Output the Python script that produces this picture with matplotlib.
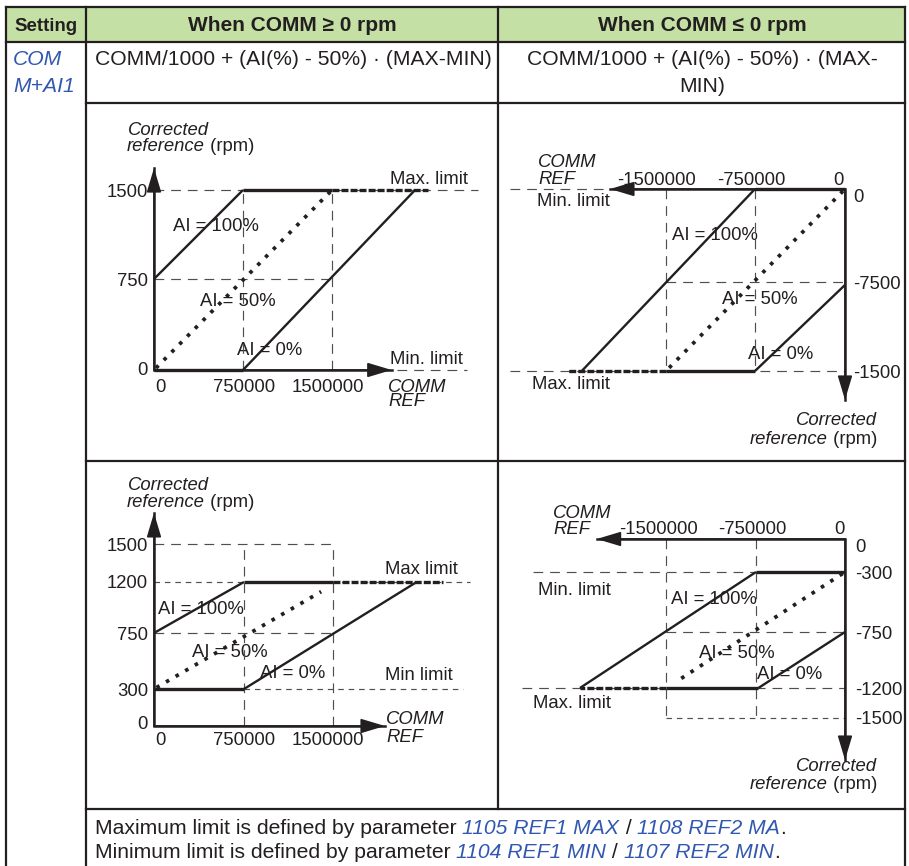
import numpy as np
import matplotlib
matplotlib.use("Agg")
import matplotlib.pyplot as plt
from matplotlib.patches import Rectangle
from matplotlib.transforms import ScaledTranslation

# ---------------------------------------------------------------- data
# A: COMM >= 0, limits 0 ... 1500 rpm
a_ai100_x = [0, 750000];              a_ai100_y = [750, 1500]
a_ai50_x = [0, 1500000];              a_ai50_y = [0, 1500]
a_ai0_x = [750000, 2200000];          a_ai0_y = [0, 1500]
a_max = 1500;  a_max_x = [750000, 1500000, 2310000]
a_min = 0;     a_min_x = [0, 750000]
a_xticks = [0, 750000, 1500000];      a_xlabels = ["0", "750000", "1500000"]
a_yticks = [0, 750, 1500];            a_ylabels = ["0", "750", "1500"]
a_guides = [([0, 2731000], [1500, 1500]), ([0, 1500000], [750, 750]),
            ([2048000, 2638000], [0, 0]),
            ([750000, 750000], [0, 1500]), ([1500000, 1500000], [0, 1500])]

# B: COMM <= 0, limits 0 ... -1500 rpm
b_ai100_x = [-750000, -2210000];      b_ai100_y = [0, -1500]
b_ai50_x = [0, -1500000];             b_ai50_y = [0, -1500]
b_ai0_x = [-750000, 0];               b_ai0_y = [-1500, -775]
b_max = -1500; b_max_x = [-750000, -1500000, -2326000]
b_min = 0;     b_min_x = [0, -750000]
b_xticks = [-1500000, -750000, 0];    b_xlabels = ["-1500000", "-750000", "0"]
b_yticks = [0, -750, -1500];          b_ylabels = ["0", "-7500", "-1500"]
b_guides = [([-2815000, -1972000], [0, 0]), ([-2815000, 0], [-1500, -1500]),
            ([-1500000, 0], [-750, -750]),
            ([-1500000, -1500000], [0, -1500]), ([-750000, -750000], [0, -1500])]

# C: COMM >= 0, limits 300 ... 1200 rpm
c_ai100_x = [0, 750000];              c_ai100_y = [750, 1200]
c_ai50_x = [0, 1400000];              c_ai50_y = [300, 1115]
c_ai0_x = [750000, 2205000];          c_ai0_y = [300, 1200]
c_max = 1200;  c_max_x = [750000, 1500000, 2424000]
c_min = 300;   c_min_x = [0, 750000]
c_xticks = [0, 750000, 1500000];      c_xlabels = ["0", "750000", "1500000"]
c_yticks = [0, 300, 750, 1200, 1500]; c_ylabels = ["0", "300", "750", "1200", "1500"]
c_guides = [([0, 1500000], [1500, 1500]), ([0, 1500000], [750, 750]),
            ([750000, 750000], [0, 1500]), ([1500000, 1500000], [0, 1500])]
c_fine_guides = [([0, 2654000], [1200, 1200]), ([750000, 2597000], [300, 300])]

# D: COMM <= 0, limits -300 ... -1200 rpm
d_ai100_x = [-750000, -2217000];      d_ai100_y = [-300, -1200]
d_ai50_x = [0, -1400000];             d_ai50_y = [-300, -1140]
d_ai0_x = [-730000, 0];               d_ai0_y = [-1200, -750]
d_max = -1200; d_max_x = [-730000, -1500000, -2217000]
d_min = -300;  d_min_x = [0, -750000]
d_xticks = [-1500000, -750000, 0];    d_xlabels = ["-1500000", "-750000", "0"]
d_yticks = [0, -300, -750, -1200, -1500]
d_ylabels = ["0", "-300", "-750", "-1200", "-1500"]
d_guides = [([-2606000, 0], [-300, -300]), ([-2702000, 0], [-1200, -1200]),
            ([-1500000, 0], [-750, -750]),
            ([-1500000, -1500000], [0, -1500]), ([-750000, -750000], [0, -1500])]
d_fine_guides = [([-1500000, 0], [-1500, -1500])]

# ---------------------------------------------------------------- style
W, H, DPI = 909, 866, 100
INK = "#231f20"
GUIDE = "#4f4f4f"
BLUE = "#3158b0"
HEAD = "#c4e0a5"
FS_BODY = 15.2
FS_HEAD = 15.0
FS_SETTING = 13.4
FS_PLOT = 13.3

plt.rcParams["font.family"] = ["Liberation Sans", "DejaVu Sans"]
plt.rcParams["lines.scale_dashes"] = False

fig = plt.figure(figsize=(W / DPI, H / DPI), dpi=DPI)
fig.patch.set_facecolor("white")
page = fig.add_axes([0, 0, 1, 1])
page.set_xlim(0, W)
page.set_ylim(H, 0)
page.axis("off")
renderer = fig.canvas.get_renderer()


def shift(dx, dy):
    return ScaledTranslation(dx / DPI, -dy / DPI, fig.dpi_scale_trans)


def extent(s, size, style="normal", weight="normal", linespacing=1.2):
    t = fig.text(0, 0, s, fontsize=size, fontstyle=style, fontweight=weight,
                 linespacing=linespacing)
    bb = t.get_window_extent(renderer)
    t.remove()
    return bb


def text_width(s, size, style, weight):
    return (extent("x" + s + "x", size, style, weight).width
            - extent("xx", size, style, weight).width)


def write(ax, x, y, runs, size, ha="left", dx=0, dy=0):
    """Draw a line of text made of styled runs; (x, y) is the middle of the capitals."""
    runs = [(r, "normal", INK, "normal") if isinstance(r, str) else r for r in runs]
    widths = [text_width(s, size, st, wt) for s, st, c, wt in runs]
    total = sum(widths)
    pos = dx + {"left": 0.0, "center": -total / 2, "right": -total}[ha]
    base = dy + 0.358 * size / 72 * DPI
    for (s, st, c, wt), w in zip(runs, widths):
        ax.text(x, y, s, fontsize=size, fontstyle=st, fontweight=wt, color=c,
                ha="left", va="baseline", clip_on=False,
                transform=ax.transData + shift(pos, base))
        pos += w


def write_stack(ax, x, y, lines, size, step, style="italic"):
    """Left-aligned block of lines whose capitals are `step` pixels apart;
    (x, y) is the middle of the capitals of the first line."""
    s = "\n".join(lines)
    h = extent(lines[0], size, style).height
    t1 = extent(s, size, style, linespacing=1.0).height
    t2 = extent(s, size, style, linespacing=2.0).height
    a = (t2 - t1) / (len(lines) - 1)
    d = (t1 - h - a * (len(lines) - 1)) / (len(lines) - 1)
    ls = (step - d) / a
    top = 0.358 * size / 72 * DPI - (h - d)
    ax.text(x, y, s, fontsize=size, fontstyle=style, color=INK, ha="left",
            va="top", linespacing=ls, clip_on=False,
            transform=ax.transData + shift(0, top))


def it(s, color=INK):
    return (s, "italic", color, "normal")


def pixel_scale(values, pixels):
    v = np.asarray(values, float)
    p = np.asarray(pixels, float)
    o = np.argsort(v)
    v, p = v[o], p[o]

    def fwd(x):
        x = np.asarray(x, float)
        y = np.interp(x, v, p)
        y = np.where(x < v[0], p[0] + (x - v[0]) * (p[1] - p[0]) / (v[1] - v[0]), y)
        y = np.where(x > v[-1], p[-1] + (x - v[-1]) * (p[-1] - p[-2]) / (v[-1] - v[-2]), y)
        return y

    def inv(y):
        y = np.asarray(y, float)
        x = np.interp(y, p, v)
        x = np.where(y < p[0], v[0] + (y - p[0]) * (v[1] - v[0]) / (p[1] - p[0]), x)
        x = np.where(y > p[-1], v[-1] + (y - p[-1]) * (v[-1] - v[-2]) / (p[-1] - p[-2]), x)
        return x

    return fwd, inv


def panel(cell, xmap, ymap):
    x0, y0, x1, y1 = cell
    ax = fig.add_axes([x0 / W, 1 - y1 / H, (x1 - x0) / W, (y1 - y0) / H])
    fx, ix = pixel_scale(*xmap)
    fy, iy = pixel_scale(ymap[0], [-p for p in ymap[1]])
    ax.set_xscale("function", functions=(fx, ix))
    ax.set_yscale("function", functions=(fy, iy))
    ax.set_xlim(float(ix(x0)), float(ix(x1)))
    ax.set_ylim(float(iy(-y1)), float(iy(-y0)))
    ax.axis("off")
    return ax


def draw_panel(ax, ai100, ai50, ai0, max_x, max_y, min_x, min_y, guides,
               fine_guides, tips):
    for xs, ys in guides:
        ax.plot(xs, ys, color=GUIDE, lw=0.85, dashes=(7, 5), clip_on=False)
    for xs, ys in fine_guides:
        ax.plot(xs, ys, color=GUIDE, lw=0.85, dashes=(4, 3.5), clip_on=False)
    # axes with arrow heads
    xt, yt = tips
    ax.plot([xt, 0, 0], [0, 0, yt], color=INK, lw=1.8, solid_joinstyle="miter",
            clip_on=False)
    for tip in [(xt, 0), (0, yt)]:
        ax.annotate("", xy=tip, xytext=(0, 0), annotation_clip=False,
                    arrowprops=dict(arrowstyle="-|>,head_length=1.5,head_width=0.45",
                                    color=INK, lw=1.2, shrinkA=0, shrinkB=0,
                                    mutation_scale=10))
    # limits
    ax.plot(min_x, [min_y] * len(min_x), color=INK, lw=2.4, solid_capstyle="butt",
            clip_on=False)
    ax.plot(max_x[:2], [max_y] * 2, color=INK, lw=2.4, solid_capstyle="butt",
            clip_on=False)
    ax.plot(max_x[1:], [max_y] * 2, color=INK, lw=2.4, dashes=(5, 1.5), clip_on=False)
    # AI curves
    ax.plot(*ai100, color=INK, lw=1.7, solid_capstyle="butt", clip_on=False)
    ax.plot(*ai0, color=INK, lw=1.7, solid_capstyle="butt", clip_on=False)
    ax.plot(*ai50, color=INK, lw=2.7, linestyle=(6, (2.6, 5.4)),
            dash_capstyle="butt", clip_on=False)


def tick_labels(ax, xticks, xlabels, xdx, xdy, yticks, ylabels, yha, ydx, ydy,
                x_at=0, y_at=0):
    for v, s, dx in zip(xticks, xlabels, xdx):
        write(ax, v, y_at, [s], FS_PLOT, ha="center", dx=dx, dy=xdy)
    for v, s, dy in zip(yticks, ylabels, ydy):
        write(ax, x_at, v, [s], FS_PLOT, ha=yha, dx=ydx, dy=dy)


# ---------------------------------------------------------------- table frame
page.add_patch(Rectangle((6, 7), 899, 35, facecolor=HEAD, edgecolor="none"))
frame = [([6, 905], [7, 7]), ([6, 905], [42, 42]), ([86, 905], [103, 103]),
         ([86, 905], [461, 461]), ([86, 905], [809, 809]),
         ([6, 6], [7, 866]), ([86, 86], [7, 866]), ([498, 498], [7, 809]),
         ([905, 905], [7, 866])]
for xs, ys in frame:
    page.plot(xs, ys, color=INK, lw=1.6, solid_capstyle="projecting")

bold = lambda s: (s, "normal", INK, "bold")
write(page, 46, 24, [bold("Setting")], FS_SETTING, ha="center")
write(page, 292, 24, [bold("When COMM \u2265 0 rpm")], FS_HEAD, ha="center")
write(page, 702, 24, [bold("When COMM \u2264 0 rpm")], FS_HEAD, ha="center")

write(page, 13, 57, [it("COM", BLUE)], FS_BODY)
write(page, 13, 84, [it("M+AI1", BLUE)], FS_BODY)
write(page, 95, 57, ["COMM/1000 + (AI(%) - 50%) \u00b7 (MAX-MIN)"], FS_BODY)
write(page, 702, 57, ["COMM/1000 + (AI(%) - 50%) \u00b7 (MAX-"], FS_BODY, ha="center")
write(page, 702, 84, ["MIN)"], FS_BODY, ha="center")

write(page, 95, 826, ["Maximum limit is defined by parameter ", it("1105 REF1 MAX", BLUE),
                      " / ", it("1108 REF2 MA", BLUE), "."], FS_BODY)
write(page, 95, 850, ["Minimum limit is defined by parameter ", it("1104 REF1 MIN", BLUE),
                      " / ", it("1107 REF2 MIN", BLUE), "."], FS_BODY)

# ---------------------------------------------------------------- panel A
ax = panel((88, 105, 496, 459), ([0, 750000, 1500000], [154, 243, 332]),
           ([0, 750, 1500], [370, 279, 190]))
draw_panel(ax, (a_ai100_x, a_ai100_y), (a_ai50_x, a_ai50_y), (a_ai0_x, a_ai0_y),
           a_max_x, a_max, a_min_x, a_min, a_guides, [], (2003000, 1685))
tick_labels(ax, a_xticks, a_xlabels, [6, 1, -4], 15, a_yticks, a_ylabels,
            "right", -6, [-2, 0, 0])
write(page, 128, 128, [it("Corrected")], FS_PLOT)
write(page, 127, 144, [it("reference"), " (rpm)"], FS_PLOT)
write(page, 390, 177, ["Max. limit"], FS_PLOT)
write(page, 390, 357, ["Min. limit"], FS_PLOT)
write(page, 173, 224, ["AI = 100%"], FS_PLOT)
write(page, 200, 299, ["AI = 50%"], FS_PLOT)
write(page, 237, 348, ["AI = 0%"], FS_PLOT)
write_stack(page, 388, 385, ["COMM", "REF"], FS_PLOT, 14)

# ---------------------------------------------------------------- panel B
ax = panel((500, 105, 903, 459), ([-1500000, -750000, 0], [666, 755, 845]),
           ([-1500, -750, 0], [371, 282, 189]))
draw_panel(ax, (b_ai100_x, b_ai100_y), (b_ai50_x, b_ai50_y), (b_ai0_x, b_ai0_y),
           b_max_x, b_max, b_min_x, b_min, b_guides, [], (-1972000, -1744))
tick_labels(ax, b_xticks, b_xlabels, [-9, -4, -7], -11, b_yticks, b_ylabels,
            "left", 8, [6, 0, 0])
write_stack(page, 538, 160, ["COMM", "REF"], FS_PLOT, 17)
write(page, 537, 199, ["Min. limit"], FS_PLOT)
write(page, 532, 382, ["Max. limit"], FS_PLOT)
write(page, 672, 233, ["AI = 100%"], FS_PLOT)
write(page, 722, 297, ["AI = 50%"], FS_PLOT)
write(page, 748, 352, ["AI = 0%"], FS_PLOT)
write(page, 877, 418, [it("Corrected")], FS_PLOT, ha="right")
write(page, 877, 437, [it("reference"), " (rpm)"], FS_PLOT, ha="right")

# ---------------------------------------------------------------- panel C
ax = panel((88, 463, 496, 807), ([0, 750000, 1500000], [154, 244, 333]),
           ([0, 300, 750, 1200, 1500], [726, 689, 633, 582, 544]))
draw_panel(ax, (c_ai100_x, c_ai100_y), (c_ai50_x, c_ai50_y), (c_ai0_x, c_ai0_y),
           c_max_x, c_max, c_min_x, c_min, c_guides, c_fine_guides,
           (1938000, 1745))
tick_labels(ax, c_xticks, c_xlabels, [6, 0, -5], 12, c_yticks, c_ylabels,
            "right", -6, [-4, 0, 0, -1, 0])
write(page, 128, 483, [it("Corrected")], FS_PLOT)
write(page, 127, 500, [it("reference"), " (rpm)"], FS_PLOT)
write(page, 385, 567, ["Max limit"], FS_PLOT)
write(page, 385, 673, ["Min limit"], FS_PLOT)
write(page, 158, 607, ["AI = 100%"], FS_PLOT)
write(page, 192, 650, ["AI = 50%"], FS_PLOT)
write(page, 260, 671, ["AI = 0%"], FS_PLOT)
write_stack(page, 386, 717, ["COMM", "REF"], FS_PLOT, 18)

# ---------------------------------------------------------------- panel D
ax = panel((500, 463, 903, 807), ([-1500000, -750000, 0], [666, 756, 845]),
           ([-1500, -1200, -750, -300, 0], [718, 688, 632, 572, 539]))
draw_panel(ax, (d_ai100_x, d_ai100_y), (d_ai50_x, d_ai50_y), (d_ai0_x, d_ai0_y),
           d_max_x, d_max, d_min_x, d_min, d_guides, d_fine_guides,
           (-2078000, -1920))
tick_labels(ax, d_xticks, d_xlabels, [-8, -4, -6], -12, d_yticks, d_ylabels,
            "left", 10, [6, 0, 0, 0, -1])
write_stack(page, 553, 511, ["COMM", "REF"], FS_PLOT, 16)
write(page, 538, 588, ["Min. limit"], FS_PLOT)
write(page, 533, 701, ["Max. limit"], FS_PLOT)
write(page, 671, 597, ["AI = 100%"], FS_PLOT)
write(page, 699, 651, ["AI = 50%"], FS_PLOT)
write(page, 757, 672, ["AI = 0%"], FS_PLOT)
write(page, 877, 764, [it("Corrected")], FS_PLOT, ha="right")
write(page, 877, 782, [it("reference"), " (rpm)"], FS_PLOT, ha="right")

fig.savefig("out.png", dpi=DPI, facecolor="white")
